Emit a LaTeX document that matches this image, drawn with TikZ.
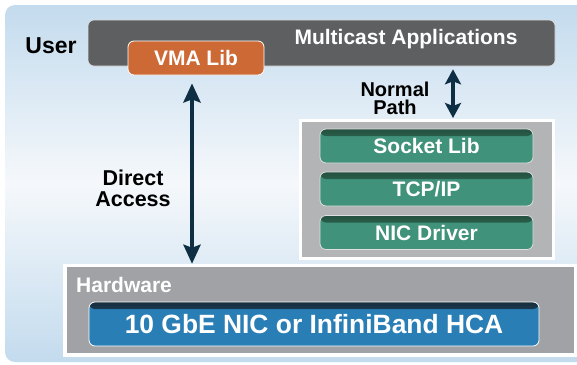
\documentclass[tikz,border=0pt]{standalone}
\usepackage{fontspec}
\setmainfont{Liberation Sans}
\usetikzlibrary{arrows.meta,calc}
\definecolor{bgtop}{HTML}{C3DBEE}
\definecolor{bgmid}{HTML}{F5F8FB}
\definecolor{appgray}{HTML}{5E5F61}
\definecolor{vmaorange}{HTML}{CD6935}
\definecolor{navy}{HTML}{0E2E43}
\definecolor{stackgray}{HTML}{B3B4B6}
\definecolor{hwgray}{HTML}{A1A2A5}
\definecolor{stackgreen}{HTML}{40927A}
\definecolor{greendark}{HTML}{24503F}
\definecolor{nicblue}{HTML}{2A7EB6}
\definecolor{bluedark}{HTML}{172C3C}
\begin{document}
\begin{tikzpicture}[x=1pt,y=-1pt,
  lbl/.style={font=\bfseries\fontsize{21}{21}\selectfont, text height=15pt, text depth=0pt, inner sep=0pt},
  darklbl/.style={font=\bfseries\fontsize{21}{21}\selectfont, text=black, inner sep=0pt, align=center},
  box/.style={rounded corners=6pt, inner sep=0pt, text=white, draw=white, line width=0.8pt},
  greenbox/.style={box, lbl, fill=stackgreen, draw=black!12, minimum width=213pt, minimum height=34pt,
    path picture={\shade[top color=greendark, bottom color=stackgreen] (path picture bounding box.north west) rectangle ([yshift=-7pt]path picture bounding box.north east);}},
  panel/.style={draw=white, inner sep=0pt},
  dblarrow/.style={draw=navy, line width=4.4pt, {Stealth[length=19pt,width=17pt,inset=3pt]}-{Stealth[length=19pt,width=17pt,inset=3pt]}},
  dblarrowsm/.style={draw=navy, line width=4.2pt, {Stealth[length=15pt,width=16pt,inset=3pt]}-{Stealth[length=15pt,width=16pt,inset=3pt]}}
]
\useasboundingbox (0,0) rectangle (577,364);
\clip (0,0) rectangle (577,364);
\fill[white] (0,0) rectangle (577,364);
\shade[top color=bgtop, bottom color=bgtop, middle color=bgmid, rounded corners=10pt] (5,5) rectangle (600,362);

% user layer
\node[lbl, font=\bfseries\fontsize{23}{23}\selectfont, text height=16.5pt, text=black] (user) at (51,45) {User};
\node[box, fill=appgray, draw=white!75!gray, line width=0.6pt, minimum width=467pt, minimum height=46pt] (apps) at (321.5,43) {};
\node[lbl, text=white, anchor=base] (appstxt) at (406,44) {Multicast Applications};
\node[box, lbl, fill=vmaorange, minimum width=136pt, minimum height=34pt] (vma) at (196,58) {VMA Lib};

% kernel stack
\node[panel, line width=3pt, fill=stackgray, minimum width=253pt, minimum height=138pt] (stack) at (427,189.5) {};
\node[greenbox] (sock) at (426.5,146) {Socket Lib};
\node[greenbox] (tcp) at (426.5,189) {TCP/IP};
\node[greenbox] (drv) at (426.5,232.5) {NIC Driver};

% hardware
\node[panel, line width=3.5pt, fill=hwgray, minimum width=510.5pt, minimum height=89.5pt] (hw) at (320.25,310.25) {};
\node[lbl, text=white, anchor=base west] (hwtxt) at (76,292) {Hardware};
\node[box, lbl, font=\bfseries\fontsize{26.4}{26.4}\selectfont, text height=18.9pt, fill=nicblue, minimum width=450pt, minimum height=44pt,
  path picture={\shade[top color=bluedark, bottom color=nicblue] (path picture bounding box.north west) rectangle ([yshift=-7pt]path picture bounding box.north east);}] (nic) at (314,324) {10 GbE NIC or InfiniBand HCA};

% labels
\node[darklbl, font=\bfseries\fontsize{20}{18.5}\selectfont] (normal) at (395,98.5) {Normal\\Path};
\node[darklbl, font=\bfseries\fontsize{21.5}{21}\selectfont] (direct) at (133,188) {Direct\\Access};

% arrows
\draw[dblarrow, shorten <=8pt] ([xshift=-4pt]vma.south) -- ([xshift=-4pt]vma.south |- hw.north);
\draw[dblarrowsm, shorten <=3pt, shorten >=1pt] ([xshift=131.5pt]apps.south) -- ([xshift=131.5pt]apps.south |- stack.north);
\end{tikzpicture}
\end{document}
